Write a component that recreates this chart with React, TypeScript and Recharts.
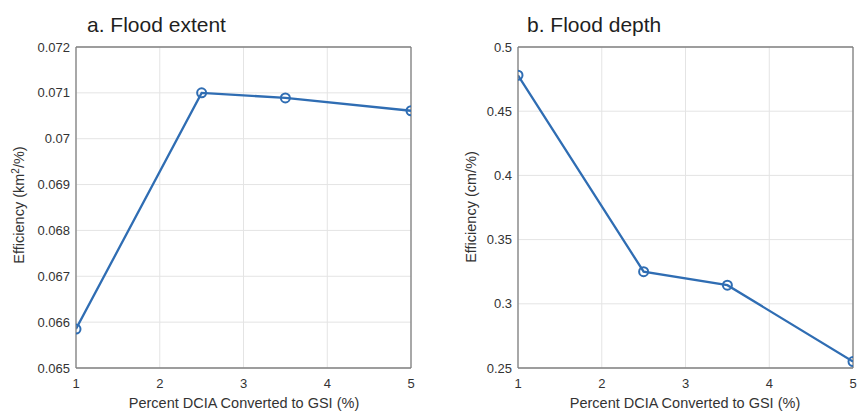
import React from "react";
import {
  LineChart, Line, XAxis, YAxis, CartesianGrid, ReferenceLine,
} from "recharts";

const percentConverted = [1, 2.5, 3.5, 5];
const extentEfficiency = [0.06585, 0.071, 0.07089, 0.07061];
const depthEfficiency = [0.478, 0.325, 0.3145, 0.255];

const xTicks = [1, 2, 3, 4, 5];
const extentTicks = [0.065, 0.066, 0.067, 0.068, 0.069, 0.07, 0.071, 0.072];
const depthTicks = [0.25, 0.3, 0.35, 0.4, 0.45, 0.5];

const BLUE = "#2f6db3";
const AXIS = "#808080";
const GRID = "#e4e4e4";
const TEXT = "#333333";
const FONT = "'Liberation Sans', Arial, Helvetica, sans-serif";

const extentData = percentConverted.map((x, i) => ({ x, y: extentEfficiency[i] }));
const depthData = percentConverted.map((x, i) => ({ x, y: depthEfficiency[i] }));

interface PanelProps {
  data: { x: number; y: number }[];
  yTicks: number[];
  width: number;
  marginLeft: number;
  marginRight: number;
}

function Panel({ data, yTicks, width, marginLeft, marginRight }: PanelProps) {
  const yMin = yTicks[0];
  const yMax = yTicks[yTicks.length - 1];
  const tick = { fill: TEXT, fontSize: 13, fontFamily: FONT };
  return (
    <LineChart
      width={width}
      height={413}
      data={data}
      margin={{ top: 47, right: marginRight, left: marginLeft, bottom: 15 }}
    >
      <CartesianGrid stroke={GRID} />
      <XAxis
        dataKey="x"
        type="number"
        domain={[1, 5]}
        ticks={xTicks}
        height={30}
        stroke={AXIS}
        strokeWidth={1.3}
        tickLine={false}
        tickSize={0}
        tickMargin={11}
        tick={tick}
        allowDataOverflow
      />
      <YAxis
        type="number"
        domain={[yMin, yMax]}
        ticks={yTicks}
        width={50}
        stroke={AXIS}
        strokeWidth={1.3}
        tickLine={false}
        tickSize={0}
        tickMargin={6}
        tick={tick}
        tickFormatter={(v) => String(v)}
        allowDataOverflow
      />
      <ReferenceLine y={yMax} stroke={AXIS} strokeWidth={1.3} />
      <ReferenceLine x={5} stroke={AXIS} strokeWidth={1.3} />
      <Line
        dataKey="y"
        stroke={BLUE}
        strokeWidth={2.3}
        dot={{ r: 4.5, stroke: BLUE, strokeWidth: 2, fill: "none" }}
        isAnimationActive={false}
      />
    </LineChart>
  );
}

export default function App() {
  return (
    <div
      style={{
        position: "absolute", left: 0, top: 0, width: 857, height: 413,
        background: "#fff", fontFamily: FONT,
      }}
    >
      <div style={{ position: "absolute", left: 0, top: 0 }}>
        <Panel data={extentData} yTicks={extentTicks} width={430} marginLeft={26} marginRight={19} />
      </div>
      <div style={{ position: "absolute", left: 430, top: 0 }}>
        <Panel data={depthData} yTicks={depthTicks} width={427} marginLeft={38} marginRight={4} />
      </div>
      <svg
        width={857}
        height={413}
        style={{ position: "absolute", left: 0, top: 0, pointerEvents: "none" }}
        fontFamily={FONT}
        fill="#1f1f1f"
      >
        <text x={87} y={32} fontSize={21}>a. Flood extent</text>
        <text x={527} y={32} fontSize={21}>b. Flood depth</text>
        <text x={244} y={408} fontSize={14.5} textAnchor="middle" fill={TEXT}>
          Percent DCIA Converted to GSI (%)
        </text>
        <text x={685} y={408} fontSize={14.5} textAnchor="middle" fill={TEXT}>
          Percent DCIA Converted to GSI (%)
        </text>
        <text
          transform="translate(24,205) rotate(-90)"
          fontSize={14.5}
          textAnchor="middle"
          fill={TEXT}
        >
          Efficiency (km<tspan dy={-5} fontSize={10}>2</tspan><tspan dy={5}>/%)</tspan>
        </text>
        <text
          transform="translate(476,207) rotate(-90)"
          fontSize={14.5}
          textAnchor="middle"
          fill={TEXT}
        >
          Efficiency (cm/%)
        </text>
      </svg>
    </div>
  );
}
